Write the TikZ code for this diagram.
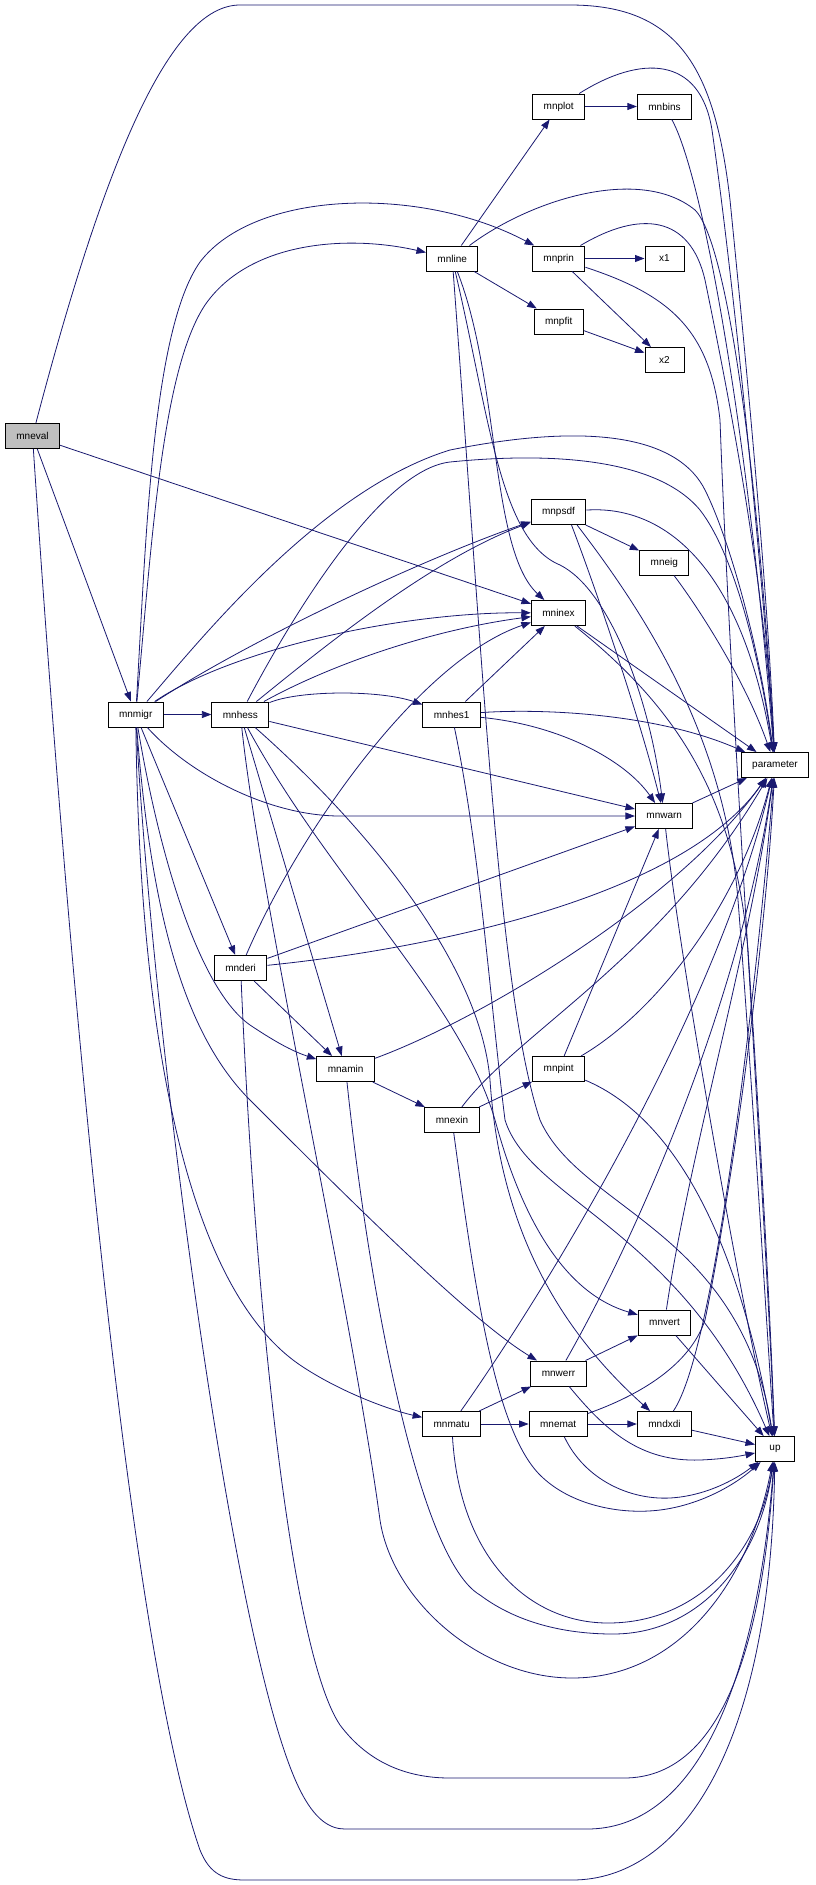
\documentclass[tikz,border=0pt]{standalone}
\usepackage{fontspec}
\setmainfont{Liberation Sans}
\usetikzlibrary{arrows.meta, backgrounds}
\definecolor{edgeBlue}{HTML}{191970}
\tikzset{funcNode/.style={shape=rectangle, draw=black, line width=1pt, fill=white, minimum width=39pt, minimum height=25pt, inner xsep=11pt, inner ysep=0pt, font=\fontsize{10}{12}\selectfont}}
\tikzset{focusNode/.style={funcNode, fill=black!25}}
\tikzset{callEdge/.style={draw=edgeBlue, line width=0.8pt, -{Triangle[length=9.5pt, width=7pt]}}}

\begin{document}
\begin{tikzpicture}[x=1pt, y=-1pt,
  background rectangle/.style={fill=white}, show background rectangle, inner frame sep=0pt]

\useasboundingbox (0,0) rectangle (815,1885);

% Functions
\node[focusNode] (mneval) at (32.5,436) {mneval};
\node[funcNode] (mnmigr) at (135.7,714.5) {mnmigr};
\node[funcNode] (mnhess) at (240.4,714.5) {mnhess};
\node[funcNode] (mnderi) at (240.6,968) {mnderi};
\node[funcNode] (mnamin) at (345.6,1069) {mnamin};
\node[funcNode] (mnline) at (452.2,258.5) {mnline};
\node[funcNode] (mnhes1) at (451.7,714.5) {mnhes1};
\node[funcNode] (mnexin) at (452,1120) {mnexin};
\node[funcNode] (mnmatu) at (451.7,1424) {mnmatu};
\node[funcNode] (mnplot) at (558.7,106.5) {mnplot};
\node[funcNode] (mnprin) at (558.7,258.5) {mnprin};
\node[funcNode] (mnpfit) at (558.7,321.5) {mnpfit};
\node[funcNode] (mnpsdf) at (558.5,512) {mnpsdf};
\node[funcNode] (mninex) at (558.5,613) {mninex};
\node[funcNode] (mnpint) at (558.7,1069) {mnpint};
\node[funcNode] (mnwerr) at (558.5,1373.5) {mnwerr};
\node[funcNode] (mnemat) at (558.2,1424) {mnemat};
\node[funcNode] (mnbins) at (664.5,106.5) {mnbins};
\node[funcNode] (x1) at (664.5,258.5) {x1};
\node[funcNode] (x2) at (664.5,360) {x2};
\node[funcNode] (mneig) at (664.3,562.5) {mneig};
\node[funcNode] (mnwarn) at (664.2,816) {mnwarn};
\node[funcNode] (mnvert) at (664.5,1322.5) {mnvert};
\node[funcNode] (mndxdi) at (664.5,1424) {mndxdi};
\node[funcNode] (parameter) at (775,765) {parameter};
\node[funcNode] (up) at (775,1449) {up};

% Calls of mneval
\draw[callEdge] (mneval) -- (mnmigr);
\draw[callEdge] (mneval) -- (mninex);
\draw[callEdge] (mneval) .. controls (105,160) and (170,5) .. (240,5) -- (570,5) .. controls (680,5) and (715,70) .. (730,200) .. controls (750,400) and (768,600) .. (parameter);
\draw[callEdge] (mneval) .. controls (70,1000) and (130,1650) .. (200,1850) .. controls (210,1875) and (225,1880) .. (245,1880) -- (572,1880) .. controls (680,1880) and (770,1750) .. (up);

% Calls of mnmigr
\draw[callEdge] (mnmigr) -- (mnhess);
\draw[callEdge] (mnmigr) .. controls (152,540) and (162,370) .. (205,305) .. controls (250,240) and (350,235) .. (mnline);
\draw[callEdge] (mnmigr) .. controls (146,540) and (152,330) .. (200,262) .. controls (255,190) and (420,185) .. (mnprin);
\draw[callEdge] (mnmigr) .. controls (200,640) and (320,490) .. (450,450) .. controls (600,420) and (680,440) .. (705,490) .. controls (730,540) and (760,650) .. (parameter);
\draw[callEdge] (mnmigr) .. controls (250,640) and (420,560) .. (mnpsdf);
\draw[callEdge] (mnmigr) .. controls (230,650) and (400,612) .. (mninex);
\draw[callEdge] (mnmigr) .. controls (190,775) and (270,816) .. (340,816) -- (mnwarn);
\draw[callEdge] (mnmigr) -- (mnderi);
\draw[callEdge] (mnmigr) .. controls (160,860) and (200,990) .. (250,1025) .. controls (280,1045) and (295,1052) .. (mnamin);
\draw[callEdge] (mnmigr) .. controls (150,900) and (180,1030) .. (250,1100) .. controls (350,1200) and (470,1320) .. (mnwerr);
\draw[callEdge] (mnmigr) .. controls (140,1050) and (190,1290) .. (300,1365) .. controls (340,1392) and (390,1410) .. (mnmatu);
\draw[callEdge] (mnmigr) .. controls (150,1000) and (230,1650) .. (300,1790) .. controls (315,1820) and (330,1829) .. (345,1829) -- (587,1829) .. controls (690,1829) and (755,1700) .. (up);

% Calls of mnhess
\draw[callEdge] (mnhess) .. controls (300,690) and (380,690) .. (mnhes1);
\draw[callEdge] (mnhess) .. controls (320,650) and (430,560) .. (mnpsdf);
\draw[callEdge] (mnhess) .. controls (330,665) and (430,630) .. (mninex);
\draw[callEdge] (mnhess) .. controls (290,620) and (380,470) .. (450,462) .. controls (520,455) and (650,450) .. (700,510) .. controls (735,555) and (760,660) .. (parameter);
\draw[callEdge] (mnhess) -- (mnwarn);
\draw[callEdge] (mnhess) -- (mnamin);
\draw[callEdge] (mnhess) .. controls (330,880) and (460,1000) .. (495,1120) .. controls (525,1230) and (570,1295) .. (mnvert);
\draw[callEdge] (mnhess) .. controls (360,820) and (480,960) .. (490,1080) .. controls (500,1230) and (560,1330) .. (mndxdi);
\draw[callEdge] (mnhess) .. controls (260,900) and (350,1300) .. (380,1520) .. controls (392,1600) and (480,1678) .. (572,1678) .. controls (680,1678) and (750,1580) .. (up);

% Calls of mnline
\draw[callEdge] (mnline) -- (mnplot);
\draw[callEdge] (mnline) -- (mnpfit);
\draw[callEdge] (mnline) .. controls (500,380) and (490,550) .. (mninex);
\draw[callEdge] (mnline) .. controls (490,420) and (500,540) .. (560,565) .. controls (610,590) and (650,700) .. (mnwarn);
\draw[callEdge] (mnline) .. controls (530,200) and (640,165) .. (695,210) .. controls (730,245) and (760,500) .. (parameter);
\draw[callEdge] (mnline) .. controls (485,700) and (500,1000) .. (540,1120) .. controls (580,1210) and (740,1230) .. (up);

% Calls of mnplot, mnbins, mnprin and mnpfit
\draw[callEdge] (mnplot) -- (mnbins);
\draw[callEdge] (mnplot) .. controls (640,55) and (700,55) .. (712,130) .. controls (735,290) and (765,600) .. (parameter);
\draw[callEdge] (mnbins) .. controls (700,170) and (745,400) .. (parameter);
\draw[callEdge] (mnprin) -- (x1);
\draw[callEdge] (mnprin) -- (x2);
\draw[callEdge] (mnprin) .. controls (640,210) and (690,215) .. (705,280) .. controls (740,450) and (765,600) .. (parameter);
\draw[callEdge] (mnprin) .. controls (670,295) and (710,330) .. (720,420) .. controls (730,700) and (765,1200) .. (up);
\draw[callEdge] (mnpfit) -- (x2);

% Calls of mnpsdf, mneig and mninex
\draw[callEdge] (mnpsdf) -- (mneig);
\draw[callEdge] (mnpsdf.-45) .. controls (600,600) and (640,720) .. (mnwarn);
\draw[callEdge] (mnpsdf) .. controls (660,505) and (740,560) .. (parameter);
\draw[callEdge] (mnpsdf.-35) .. controls (650,620) and (725,740) .. (738,900) .. controls (752,1080) and (765,1300) .. (up);
\draw[callEdge] (mneig) .. controls (700,610) and (745,680) .. (parameter);
\draw[callEdge] (mninex) -- (parameter);
\draw[callEdge] (mninex) .. controls (680,710) and (735,800) .. (748,950) .. controls (758,1100) and (770,1300) .. (up);

% Calls of mnhes1
\draw[callEdge] (mnhes1) -- (mninex);
\draw[callEdge] (mnhes1) .. controls (560,725) and (625,760) .. (mnwarn);
\draw[callEdge] (mnhes1) .. controls (550,708) and (660,715) .. (parameter);
\draw[callEdge] (mnhes1) .. controls (480,850) and (490,1000) .. (505,1120) .. controls (530,1200) and (680,1230) .. (up);

% Calls of mnwarn
\draw[callEdge] (mnwarn) -- (parameter);
\draw[callEdge] (mnwarn) .. controls (680,960) and (740,1300) .. (up);

% Calls of mnderi
\draw[callEdge] (mnderi) .. controls (300,830) and (420,660) .. (mninex);
\draw[callEdge] (mnderi) -- (mnwarn);
\draw[callEdge] (mnderi) .. controls (420,950) and (680,900) .. (parameter);
\draw[callEdge] (mnderi) -- (mnamin);
\draw[callEdge] (mnderi) .. controls (255,1300) and (290,1650) .. (340,1725) .. controls (370,1765) and (410,1778) .. (450,1778) -- (624,1778) .. controls (720,1778) and (762,1650) .. (up);

% Calls of mnamin
\draw[callEdge] (mnamin) -- (mnexin);
\draw[callEdge] (mnamin) .. controls (480,1020) and (680,900) .. (parameter);
\draw[callEdge] (mnamin) .. controls (370,1300) and (420,1560) .. (480,1595) .. controls (520,1625) and (570,1634) .. (613,1634) .. controls (700,1634) and (760,1560) .. (up);

% Calls of mnexin and mnpint
\draw[callEdge] (mnexin) -- (mnpint);
\draw[callEdge] (mnexin) .. controls (520,1030) and (660,960) .. (parameter);
\draw[callEdge] (mnexin) .. controls (475,1290) and (495,1430) .. (540,1475) .. controls (570,1505) and (620,1515) .. (660,1510) .. controls (700,1505) and (735,1485) .. (up);
\draw[callEdge] (mnpint) -- (mnwarn);
\draw[callEdge] (mnpint) .. controls (660,1010) and (740,900) .. (parameter);
\draw[callEdge] (mnpint) .. controls (680,1120) and (740,1250) .. (up);

% Lower part
\draw[callEdge] (mnwerr) -- (mnvert);
\draw[callEdge] (mnwerr) .. controls (640,1230) and (740,1000) .. (parameter);
\draw[callEdge] (mnwerr) .. controls (605,1430) and (640,1462) .. (700,1460) .. controls (725,1459) and (740,1456) .. (up);
\draw[callEdge] (mnvert) .. controls (690,1150) and (750,950) .. (parameter);
\draw[callEdge] (mnvert) -- (up);
\draw[callEdge] (mnmatu) -- (mnwerr);
\draw[callEdge] (mnmatu) -- (mnemat);
\draw[callEdge] (mnmatu) .. controls (560,1270) and (720,1000) .. (parameter);
\draw[callEdge] (mnmatu) .. controls (460,1560) and (530,1623) .. (608,1623) .. controls (700,1623) and (760,1550) .. (up);
\draw[callEdge] (mnemat) -- (mndxdi);
\draw[callEdge] (mnemat) .. controls (640,1395) and (690,1365) .. (705,1320) .. controls (730,1200) and (765,950) .. (parameter);
\draw[callEdge] (mnemat) .. controls (585,1480) and (630,1500) .. (670,1498) .. controls (705,1496) and (735,1480) .. (up);
\draw[callEdge] (mndxdi) .. controls (715,1350) and (755,1000) .. (parameter);
\draw[callEdge] (mndxdi) -- (up);

\end{tikzpicture}
\end{document}
